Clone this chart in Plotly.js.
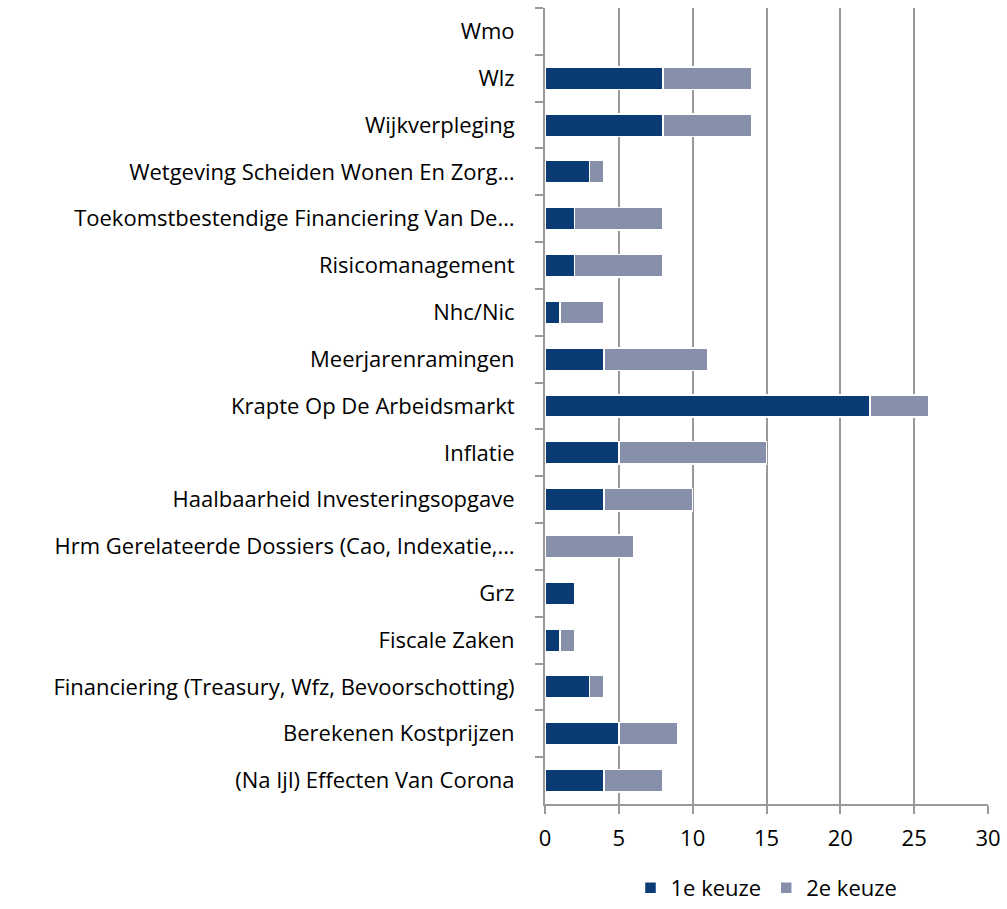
<!DOCTYPE html>
<html>
<head>
<meta charset="utf-8">
<script src="https://cdn.plot.ly/plotly-3.0.1.min.js"></script>
<style>html,body{margin:0;padding:0;background:#fff;}#chart{width:1007px;height:909px;}</style>
</head>
<body>
<div id="chart"></div>
<script>
var categories = [
  "Wmo",
  "Wlz",
  "Wijkverpleging",
  "Wetgeving Scheiden Wonen En Zorg…",
  "Toekomstbestendige Financiering Van De…",
  "Risicomanagement",
  "Nhc/Nic",
  "Meerjarenramingen",
  "Krapte Op De Arbeidsmarkt",
  "Inflatie",
  "Haalbaarheid Investeringsopgave",
  "Hrm Gerelateerde Dossiers (Cao, Indexatie,…",
  "Grz",
  "Fiscale Zaken",
  "Financiering (Treasury, Wfz, Bevoorschotting)",
  "Berekenen Kostprijzen",
  "(Na Ijl) Effecten Van Corona"
];
var keuze1 = [0, 8, 8, 3, 2, 2, 1, 4, 22, 5, 4, 0, 2, 1, 3, 5, 4];
var keuze2 = [0, 6, 6, 1, 6, 6, 3, 7, 4, 10, 6, 6, 0, 1, 1, 4, 4];
var seriesNames = ["1e keuze", "2e keuze"];
var xTicks = [0, 5, 10, 15, 20, 25, 30];

var font = "Open Sans, Liberation Sans, sans-serif";
var traces = [
  {type: "bar", orientation: "h", name: seriesNames[0], y: categories, x: keuze1,
   marker: {color: "#0b3b74", line: {color: "#ffffff", width: 1.5}}},
  {type: "bar", orientation: "h", name: seriesNames[1], y: categories, x: keuze2,
   marker: {color: "#8790ab", line: {color: "#ffffff", width: 1.5}}}
];
var layout = {
  width: 1007, height: 909,
  barmode: "stack",
  bargap: 0.52,
  paper_bgcolor: "#fff", plot_bgcolor: "#fff",
  font: {family: font, size: 22, color: "#000"},
  margin: {l: 545, r: 19, t: 8, b: 105, autoexpand: false},
  showlegend: true,
  legend: {orientation: "h", x: 0.5, xanchor: "center", xref: "paper", yref: "container", y: 0, yanchor: "bottom",
           font: {family: font, size: 22, color: "#000"}, traceorder: "normal", itemwidth: 30},
  xaxis: {
    range: [0, 30], tickvals: xTicks, ticktext: xTicks.map(String),
    showgrid: true, gridcolor: "#999999", gridwidth: 2,
    showline: true, linecolor: "#999999", linewidth: 2,
    ticks: "outside", ticklen: 8, tickwidth: 2, tickcolor: "#999999",
    ticklabelstandoff: 6,
    zeroline: false, fixedrange: true, automargin: false,
    tickfont: {family: font, size: 22, color: "#000"}
  },
  yaxis: {
    type: "category", categoryorder: "array", categoryarray: categories,
    autorange: "reversed",
    showgrid: false, zeroline: false,
    showline: true, linecolor: "#999999", linewidth: 2,
    ticks: "outside", ticklen: 8, tickwidth: 2, tickcolor: "#999999",
    tickson: "boundaries", ticklabelstandoff: 24, automargin: false,
    tickfont: {family: font, size: 22, color: "#000"}
  }
};
Plotly.newPlot("chart", traces, layout, {displayModeBar: false, staticPlot: true});
</script>
</body>
</html>
